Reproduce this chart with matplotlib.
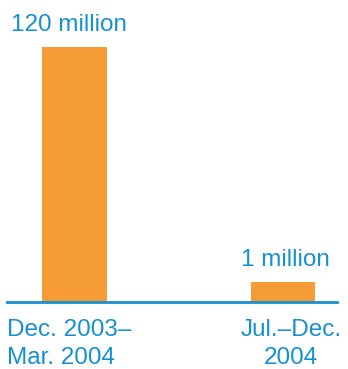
import matplotlib.pyplot as plt

# data
periods = ["Dec. 2003–\nMar. 2004", "Jul.–Dec.\n2004"]
value_labels = ["120 million", "1 million"]
values = [120, 1]
# drawn bar heights (chart is not to scale for the small bar)
bar_heights = [120, 9.5]

orange = "#F69C36"
blue = "#1790D2"

plt.rcParams["font.family"] = ["Liberation Sans", "DejaVu Sans"]

fig = plt.figure(figsize=(3.48, 3.69), dpi=100)
ax = fig.add_axes([7 / 348, (369 - 302) / 369, 330 / 348, 255 / 369])

x = [0, 1]
ax.bar(x, bar_heights, width=0.31, color=orange, zorder=1)
ax.set_xlim(-0.324, 1.259)
ax.set_ylim(0, 120)
ax.axhline(0, color=blue, lw=2.0, zorder=2, clip_on=False)

for xi, h, lab in zip(x, bar_heights, value_labels):
    ax.annotate(lab, (xi, h), xytext=(-4 if xi == 0 else 2, 8), textcoords="offset points",
                ha="center", va="bottom", color=blue, fontsize=17.5)

ax.annotate(periods[0], (0, 0), xytext=(-48.5, -12), textcoords="offset points",
            ha="left", va="top", color=blue, fontsize=17.5, linespacing=1.35)
ax.annotate(periods[1], (1, 0), xytext=(6, -12), textcoords="offset points",
            ha="center", va="top", color=blue, fontsize=17.5, linespacing=1.35,
            multialignment="center")

ax.axis("off")
fig.savefig("out.png", dpi=100)
